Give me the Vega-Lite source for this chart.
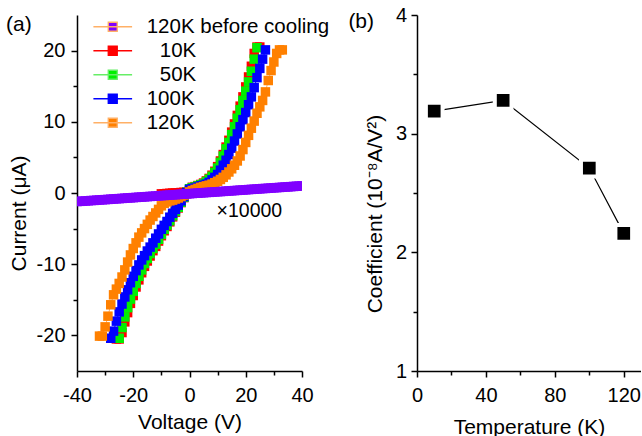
{
  "$schema": "https://vega.github.io/schema/vega-lite/v6.json",
  "background": "white",
  "padding": {"left": 6, "top": 5, "right": 0, "bottom": 0},
  "config": {
    "font": "Liberation Sans",
    "view": {"stroke": null},
    "axis": {
      "grid": false, "domainColor": "black", "domainWidth": 1.5,
      "tickColor": "black", "tickWidth": 1.5,
      "labelColor": "black", "titleColor": "black",
      "labelFont": "Liberation Sans", "titleFont": "Liberation Sans",
      "labelFontSize": 20, "titleFontSize": 21, "titleFontWeight": "normal",
      "labelOverlap": false, "labelFlush": false, "zindex": 1
    },
    "legend": {
      "title": null,
      "orient": "none", "legendX": 25.5, "legendY": 1.5, "padding": 0,
      "symbolType": "M-4.3,0H4.3M-1,-1H1V1H-1Z",
      "symbolSize": 81, "symbolStrokeWidth": 1.3, "symbolOffset": 0,
      "labelFont": "Liberation Sans", "labelFontSize": 20.5, "labelColor": "black",
      "labelLimit": 400, "labelOffset": 23.7, "rowPadding": 3
    },
    "title": {"font": "Liberation Sans", "fontSize": 21, "fontWeight": "normal", "color": "black"}
  },
  "datasets": {
    "iv": [
      {"series":"10K","V":-26,"I":-20.5},{"series":"10K","V":-25,"I":-20.5},{"series":"10K","V":-24,"I":-19.6},{"series":"10K","V":-23,"I":-18.1},{"series":"10K","V":-22,"I":-16.8},{"series":"10K","V":-21,"I":-15.5},{"series":"10K","V":-20,"I":-14.4},{"series":"10K","V":-19,"I":-13.2},{"series":"10K","V":-18,"I":-12.2},{"series":"10K","V":-17,"I":-11.2},{"series":"10K","V":-16,"I":-10.3},{"series":"10K","V":-15,"I":-9.55},{"series":"10K","V":-14,"I":-8.85},{"series":"10K","V":-13,"I":-8.1},{"series":"10K","V":-12,"I":-7.5},{"series":"10K","V":-11,"I":-6.75},{"series":"10K","V":-10,"I":-6.0},{"series":"10K","V":-9,"I":-5.3},{"series":"10K","V":-8,"I":-4.7},{"series":"10K","V":-7,"I":-4.05},{"series":"10K","V":-6,"I":-3.35},{"series":"10K","V":-5,"I":-2.7},{"series":"10K","V":-4,"I":-2.1},{"series":"10K","V":-3,"I":-1.35},{"series":"10K","V":-2,"I":-0.65},{"series":"10K","V":-1,"I":0.0},
      {"series":"10K","V":-10,"I":-0.12},{"series":"10K","V":-9,"I":-0.1},{"series":"10K","V":-8,"I":-0.07},{"series":"10K","V":-7,"I":-0.04},{"series":"10K","V":-6,"I":-0.01},{"series":"10K","V":-5,"I":0.01},{"series":"10K","V":-4,"I":0.04},{"series":"10K","V":-3,"I":0.07},{"series":"10K","V":-2,"I":0.1},{"series":"10K","V":-1,"I":0.12},{"series":"10K","V":0,"I":0.3},
      {"series":"10K","V":1,"I":0.8},{"series":"10K","V":2,"I":0.9},{"series":"10K","V":3,"I":1.05},{"series":"10K","V":4,"I":1.2},{"series":"10K","V":5,"I":1.4},{"series":"10K","V":6,"I":1.7},{"series":"10K","V":7,"I":2.05},{"series":"10K","V":8,"I":2.5},{"series":"10K","V":9,"I":3.05},{"series":"10K","V":10,"I":3.7},{"series":"10K","V":11,"I":4.5},{"series":"10K","V":12,"I":5.4},{"series":"10K","V":13,"I":6.45},{"series":"10K","V":14,"I":7.4},{"series":"10K","V":15,"I":8.55},{"series":"10K","V":16,"I":9.7},{"series":"10K","V":17,"I":10.9},{"series":"10K","V":18,"I":12.2},{"series":"10K","V":19,"I":13.5},{"series":"10K","V":20,"I":14.9},{"series":"10K","V":21,"I":16.3},{"series":"10K","V":22,"I":17.8},{"series":"10K","V":23,"I":19.6},{"series":"10K","V":24,"I":20.5},{"series":"10K","V":25,"I":20.5},

      {"series":"50K","V":-25,"I":-20.4},{"series":"50K","V":-24,"I":-18.9},{"series":"50K","V":-23,"I":-17.4},{"series":"50K","V":-22,"I":-16.1},{"series":"50K","V":-21,"I":-14.9},{"series":"50K","V":-20,"I":-13.8},{"series":"50K","V":-19,"I":-12.7},{"series":"50K","V":-18,"I":-11.7},{"series":"50K","V":-17,"I":-10.8},{"series":"50K","V":-16,"I":-9.9},{"series":"50K","V":-15,"I":-9.2},{"series":"50K","V":-14,"I":-8.5},{"series":"50K","V":-13,"I":-7.8},{"series":"50K","V":-12,"I":-7.2},{"series":"50K","V":-11,"I":-6.5},{"series":"50K","V":-10,"I":-5.8},{"series":"50K","V":-9,"I":-5.1},{"series":"50K","V":-8,"I":-4.5},{"series":"50K","V":-7,"I":-3.9},{"series":"50K","V":-6,"I":-3.2},{"series":"50K","V":-5,"I":-2.6},{"series":"50K","V":-4,"I":-2.0},{"series":"50K","V":-3,"I":-1.3},{"series":"50K","V":-2,"I":-0.6},{"series":"50K","V":-1,"I":0.1},{"series":"50K","V":0,"I":0.6},{"series":"50K","V":1,"I":0.75},{"series":"50K","V":2,"I":0.85},{"series":"50K","V":3,"I":1.0},{"series":"50K","V":4,"I":1.15},{"series":"50K","V":5,"I":1.3},{"series":"50K","V":6,"I":1.6},{"series":"50K","V":7,"I":1.95},{"series":"50K","V":8,"I":2.35},{"series":"50K","V":9,"I":2.9},{"series":"50K","V":10,"I":3.5},{"series":"50K","V":11,"I":4.3},{"series":"50K","V":12,"I":5.2},{"series":"50K","V":13,"I":6.2},{"series":"50K","V":14,"I":7.1},{"series":"50K","V":15,"I":8.2},{"series":"50K","V":16,"I":9.3},{"series":"50K","V":17,"I":10.5},{"series":"50K","V":18,"I":11.7},{"series":"50K","V":19,"I":13.0},{"series":"50K","V":20,"I":14.3},{"series":"50K","V":21,"I":15.6},{"series":"50K","V":22,"I":17.1},{"series":"50K","V":23,"I":18.8},{"series":"50K","V":24,"I":20.4},

      {"series":"100K","V":-28,"I":-20.4},{"series":"100K","V":-27,"I":-19.4},{"series":"100K","V":-26,"I":-18.0},{"series":"100K","V":-25,"I":-16.7},{"series":"100K","V":-24,"I":-15.6},{"series":"100K","V":-23,"I":-14.6},{"series":"100K","V":-22,"I":-13.6},{"series":"100K","V":-21,"I":-12.6},{"series":"100K","V":-20,"I":-11.7},{"series":"100K","V":-19,"I":-10.9},{"series":"100K","V":-18,"I":-10.1},{"series":"100K","V":-17,"I":-9.4},{"series":"100K","V":-16,"I":-8.8},{"series":"100K","V":-15,"I":-8.15},{"series":"100K","V":-14,"I":-7.6},{"series":"100K","V":-13,"I":-7.0},{"series":"100K","V":-12,"I":-6.35},{"series":"100K","V":-11,"I":-5.75},{"series":"100K","V":-10,"I":-5.1},{"series":"100K","V":-9,"I":-4.55},{"series":"100K","V":-8,"I":-4.0},{"series":"100K","V":-7,"I":-3.4},{"series":"100K","V":-6,"I":-2.85},{"series":"100K","V":-5,"I":-2.3},{"series":"100K","V":-4,"I":-1.7},{"series":"100K","V":-3,"I":-1.1},{"series":"100K","V":-2,"I":-0.5},{"series":"100K","V":-1,"I":0.05},{"series":"100K","V":0,"I":0.5},{"series":"100K","V":1,"I":0.6},{"series":"100K","V":2,"I":0.7},{"series":"100K","V":3,"I":0.85},{"series":"100K","V":4,"I":1.0},{"series":"100K","V":5,"I":1.1},{"series":"100K","V":6,"I":1.25},{"series":"100K","V":7,"I":1.5},{"series":"100K","V":8,"I":1.85},{"series":"100K","V":9,"I":2.2},{"series":"100K","V":10,"I":2.6},{"series":"100K","V":11,"I":3.2},{"series":"100K","V":12,"I":3.9},{"series":"100K","V":13,"I":4.6},{"series":"100K","V":14,"I":5.4},{"series":"100K","V":15,"I":6.3},{"series":"100K","V":16,"I":7.3},{"series":"100K","V":17,"I":8.3},{"series":"100K","V":18,"I":9.3},{"series":"100K","V":19,"I":10.3},{"series":"100K","V":20,"I":11.3},{"series":"100K","V":21,"I":12.4},{"series":"100K","V":22,"I":13.5},{"series":"100K","V":23,"I":14.8},{"series":"100K","V":24,"I":16.2},{"series":"100K","V":25,"I":17.5},{"series":"100K","V":26,"I":18.8},{"series":"100K","V":27,"I":20.1},

      {"series":"120K","V":-32,"I":-20.1},{"series":"120K","V":-31,"I":-20.1},{"series":"120K","V":-30,"I":-18.8},{"series":"120K","V":-29,"I":-17.3},{"series":"120K","V":-28,"I":-15.7},{"series":"120K","V":-27,"I":-14.3},{"series":"120K","V":-26,"I":-13.5},{"series":"120K","V":-25,"I":-12.7},{"series":"120K","V":-24,"I":-11.8},{"series":"120K","V":-23,"I":-10.8},{"series":"120K","V":-22,"I":-9.7},{"series":"120K","V":-21,"I":-8.7},{"series":"120K","V":-20,"I":-7.8},{"series":"120K","V":-19,"I":-7.0},{"series":"120K","V":-18,"I":-6.2},{"series":"120K","V":-17,"I":-5.6},{"series":"120K","V":-16,"I":-5.0},{"series":"120K","V":-15,"I":-4.4},{"series":"120K","V":-14,"I":-3.8},{"series":"120K","V":-13,"I":-3.3},{"series":"120K","V":-12,"I":-2.8},{"series":"120K","V":-11,"I":-2.3},{"series":"120K","V":-10,"I":-1.8},{"series":"120K","V":-9,"I":-1.45},{"series":"120K","V":-8,"I":-1.25},{"series":"120K","V":-7,"I":-1.1},{"series":"120K","V":-6,"I":-1.0},{"series":"120K","V":-5,"I":-0.85},{"series":"120K","V":-4,"I":-0.7},{"series":"120K","V":-3,"I":-0.5},{"series":"120K","V":-2,"I":-0.3},{"series":"120K","V":-1,"I":-0.1},{"series":"120K","V":0,"I":0.15},{"series":"120K","V":1,"I":0.35},{"series":"120K","V":2,"I":0.5},{"series":"120K","V":3,"I":0.65},{"series":"120K","V":4,"I":0.8},{"series":"120K","V":5,"I":0.9},{"series":"120K","V":6,"I":1.0},{"series":"120K","V":7,"I":1.1},{"series":"120K","V":8,"I":1.25},{"series":"120K","V":9,"I":1.45},{"series":"120K","V":10,"I":1.65},{"series":"120K","V":11,"I":1.9},{"series":"120K","V":12,"I":2.2},{"series":"120K","V":13,"I":2.55},{"series":"120K","V":14,"I":2.95},{"series":"120K","V":15,"I":3.4},{"series":"120K","V":16,"I":3.9},{"series":"120K","V":17,"I":4.5},{"series":"120K","V":18,"I":5.2},{"series":"120K","V":19,"I":6.1},{"series":"120K","V":20,"I":7.1},{"series":"120K","V":21,"I":8.1},{"series":"120K","V":22,"I":9.1},{"series":"120K","V":23,"I":10.1},{"series":"120K","V":24,"I":11.2},{"series":"120K","V":25,"I":12.1},{"series":"120K","V":26,"I":13.0},{"series":"120K","V":27,"I":14.2},{"series":"120K","V":28,"I":15.8},{"series":"120K","V":29,"I":17.2},{"series":"120K","V":30,"I":18.4},{"series":"120K","V":31,"I":19.6},{"series":"120K","V":32,"I":20.1},{"series":"120K","V":33,"I":20.1},

      {"series":"120K before cooling","V":-40,"I":-1.2},{"series":"120K before cooling","V":-39,"I":-1.17},{"series":"120K before cooling","V":-38,"I":-1.15},{"series":"120K before cooling","V":-37,"I":-1.12},{"series":"120K before cooling","V":-36,"I":-1.09},{"series":"120K before cooling","V":-35,"I":-1.06},{"series":"120K before cooling","V":-34,"I":-1.04},{"series":"120K before cooling","V":-33,"I":-1.01},{"series":"120K before cooling","V":-32,"I":-0.98},{"series":"120K before cooling","V":-31,"I":-0.95},{"series":"120K before cooling","V":-30,"I":-0.93},{"series":"120K before cooling","V":-29,"I":-0.9},{"series":"120K before cooling","V":-28,"I":-0.87},{"series":"120K before cooling","V":-27,"I":-0.84},{"series":"120K before cooling","V":-26,"I":-0.81},{"series":"120K before cooling","V":-25,"I":-0.79},{"series":"120K before cooling","V":-24,"I":-0.76},{"series":"120K before cooling","V":-23,"I":-0.73},{"series":"120K before cooling","V":-22,"I":-0.7},{"series":"120K before cooling","V":-21,"I":-0.68},{"series":"120K before cooling","V":-20,"I":-0.65},{"series":"120K before cooling","V":-19,"I":-0.62},{"series":"120K before cooling","V":-18,"I":-0.59},{"series":"120K before cooling","V":-17,"I":-0.57},{"series":"120K before cooling","V":-16,"I":-0.54},{"series":"120K before cooling","V":-15,"I":-0.51},{"series":"120K before cooling","V":-14,"I":-0.48},{"series":"120K before cooling","V":-13,"I":-0.46},{"series":"120K before cooling","V":-12,"I":-0.43},{"series":"120K before cooling","V":-11,"I":-0.4},{"series":"120K before cooling","V":-10,"I":-0.37},{"series":"120K before cooling","V":-9,"I":-0.35},{"series":"120K before cooling","V":-8,"I":-0.32},{"series":"120K before cooling","V":-7,"I":-0.29},{"series":"120K before cooling","V":-6,"I":-0.26},{"series":"120K before cooling","V":-5,"I":-0.24},{"series":"120K before cooling","V":-4,"I":-0.21},{"series":"120K before cooling","V":-3,"I":-0.18},{"series":"120K before cooling","V":-2,"I":-0.15},{"series":"120K before cooling","V":-1,"I":-0.13},{"series":"120K before cooling","V":0,"I":-0.1},{"series":"120K before cooling","V":1,"I":-0.07},{"series":"120K before cooling","V":2,"I":-0.04},{"series":"120K before cooling","V":3,"I":-0.02},{"series":"120K before cooling","V":4,"I":0.01},{"series":"120K before cooling","V":5,"I":0.04},{"series":"120K before cooling","V":6,"I":0.07},{"series":"120K before cooling","V":7,"I":0.09},{"series":"120K before cooling","V":8,"I":0.12},{"series":"120K before cooling","V":9,"I":0.15},{"series":"120K before cooling","V":10,"I":0.18},{"series":"120K before cooling","V":11,"I":0.2},{"series":"120K before cooling","V":12,"I":0.23},{"series":"120K before cooling","V":13,"I":0.26},{"series":"120K before cooling","V":14,"I":0.29},{"series":"120K before cooling","V":15,"I":0.31},{"series":"120K before cooling","V":16,"I":0.34},{"series":"120K before cooling","V":17,"I":0.37},{"series":"120K before cooling","V":18,"I":0.4},{"series":"120K before cooling","V":19,"I":0.42},{"series":"120K before cooling","V":20,"I":0.45},{"series":"120K before cooling","V":21,"I":0.48},{"series":"120K before cooling","V":22,"I":0.51},{"series":"120K before cooling","V":23,"I":0.53},{"series":"120K before cooling","V":24,"I":0.56},{"series":"120K before cooling","V":25,"I":0.59},{"series":"120K before cooling","V":26,"I":0.62},{"series":"120K before cooling","V":27,"I":0.64},{"series":"120K before cooling","V":28,"I":0.67},{"series":"120K before cooling","V":29,"I":0.7},{"series":"120K before cooling","V":30,"I":0.73},{"series":"120K before cooling","V":31,"I":0.75},{"series":"120K before cooling","V":32,"I":0.78},{"series":"120K before cooling","V":33,"I":0.81},{"series":"120K before cooling","V":34,"I":0.84},{"series":"120K before cooling","V":35,"I":0.86},{"series":"120K before cooling","V":36,"I":0.89},{"series":"120K before cooling","V":37,"I":0.92},{"series":"120K before cooling","V":38,"I":0.95},{"series":"120K before cooling","V":39,"I":0.97},{"series":"120K before cooling","V":40,"I":1.0}
    ],
    "note": [{"V": 21.3, "I": -2.5, "label": "×10000"}],
    "coef": [
      {"T": 10, "C": 3.19},
      {"T": 50, "C": 3.28},
      {"T": 100, "C": 2.71},
      {"T": 120, "C": 2.16}
    ]
  },
  "resolve": {"scale": {"fill": "independent", "stroke": "independent"}},
  "bounds": "flush",
  "spacing": 115,
  "hconcat": [
    {
      "width": 225,
      "height": 356,
      "title": {"text": "(a)", "anchor": "start", "frame": "bounds", "orient": "top", "baseline": "alphabetic", "offset": -37, "dx": -2},
      "encoding": {
        "x": {
          "field": "V", "type": "quantitative",
          "scale": {"domain": [-40, 40], "nice": false},
          "axis": {
            "title": "Voltage (V)",
            "values": [-40, -30, -20, -10, 0, 10, 20, 30, 40],
            "labelExpr": "datum.value % 20 === 0 ? '' + datum.value : ''",
            "tickSize": {"condition": {"test": "datum.value % 20 === 0", "value": 6}, "value": 4},
            "labelPadding": 8, "titlePadding": 6
          }
        },
        "y": {
          "field": "I", "type": "quantitative",
          "scale": {"domain": [-25, 25], "nice": false},
          "axis": {
            "title": "Current (μA)",
            "values": [-20, -15, -10, -5, 0, 5, 10, 15, 20],
            "labelExpr": "datum.value % 10 === 0 ? '' + datum.value : ''",
            "tickSize": {"condition": {"test": "datum.value % 10 === 0", "value": 6}, "value": 4},
            "labelPadding": 6, "titlePadding": 7, "titleY": 198
          }
        }
      },
      "layer": [
        {
          "data": {"name": "iv"},
          "mark": {"type": "line", "strokeWidth": 1, "clip": true},
          "encoding": {
            "stroke": {
              "field": "series", "type": "nominal",
              "scale": {
                "domain": ["120K before cooling", "10K", "50K", "100K", "120K"],
                "range": ["#ffb066", "#ff0000", "#66ee66", "#0000ff", "#ffb066"]
              },
              "legend": {
                "labelExpr": "length(datum.label) === 3 ? '\u200b\u00a0\u00a0\u200a' + datum.label : datum.label"
              }
            },
            "order": {"value": null}
          }
        },
        {
          "data": {"name": "iv"},
          "mark": {"type": "point", "shape": "square", "filled": true, "size": 90, "opacity": 1, "strokeWidth": 0, "clip": true},
          "encoding": {
            "fill": {
              "field": "series", "type": "nominal",
              "scale": {
                "domain": ["120K before cooling", "10K", "50K", "100K", "120K"],
                "range": ["#8000ff", "#ff0000", "#00f000", "#0000ff", "#ff8000"]
              },
              "legend": {
                "labelExpr": "length(datum.label) === 3 ? '\u200b\u00a0\u00a0\u200a' + datum.label : datum.label"
              }
            }
          }
        },
        {
          "data": {"name": "note"},
          "mark": {"type": "text", "font": "Liberation Sans", "fontSize": 19.5, "color": "black", "align": "center", "baseline": "middle"},
          "encoding": {"text": {"field": "label"}}
        }
      ]
    },
    {
      "width": 224,
      "height": 356,
      "title": {"text": "(b)", "anchor": "start", "frame": "bounds", "orient": "top", "baseline": "alphabetic", "offset": -44, "dx": -16},
      "data": {"name": "coef"},
      "encoding": {
        "x": {
          "field": "T", "type": "quantitative",
          "scale": {"domain": [0, 130], "nice": false},
          "axis": {
            "title": "Temperature (K)",
            "values": [0, 20, 40, 60, 80, 100, 120],
            "labelExpr": "datum.value % 40 === 0 ? '' + datum.value : ''",
            "tickSize": {"condition": {"test": "datum.value % 40 === 0", "value": 6}, "value": 4},
            "labelPadding": 8, "titlePadding": 11
          }
        },
        "y": {
          "field": "C", "type": "quantitative",
          "scale": {"domain": [1, 4], "nice": false, "zero": false},
          "axis": {
            "title": "Coefficient (10⁻⁸A/V²)",
            "values": [1, 1.5, 2, 2.5, 3, 3.5, 4],
            "labelExpr": "datum.value % 1 === 0 ? '' + datum.value : ''",
            "tickSize": {"condition": {"test": "datum.value % 1 === 0", "value": 6}, "value": 4},
            "labelPadding": 4.5, "titlePadding": 10, "titleY": 198.5
          }
        }
      },
      "layer": [
        {"mark": {"type": "line", "color": "black", "strokeWidth": 1.2}},
        {"mark": {"type": "point", "shape": "square", "filled": true, "size": 279, "fill": "black", "stroke": "white", "strokeWidth": 4, "opacity": 1}}
      ]
    }
  ]
}
